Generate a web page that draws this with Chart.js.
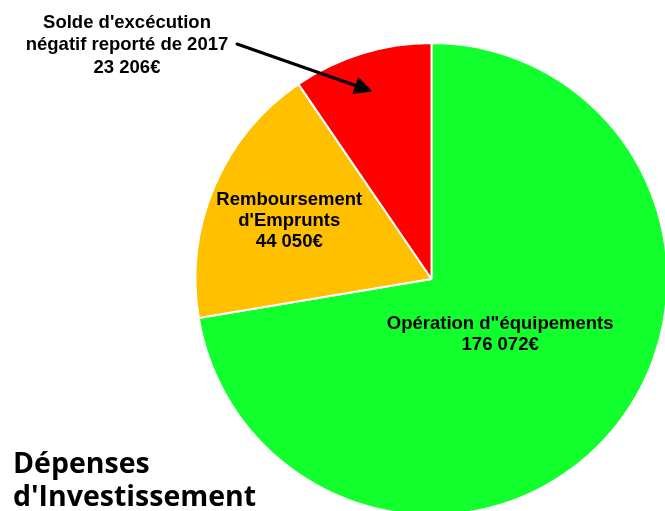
<!DOCTYPE html>
<html>
<head>
<meta charset="utf-8">
<script src="https://cdn.jsdelivr.net/npm/chart.js@4"></script>
<style>
html,body{margin:0;padding:0;background:#fff;overflow:hidden;width:665px;height:511px;}
#wrap{position:absolute;left:0;top:0;width:700px;height:560px;}
</style>
</head>
<body>
<div id="wrap"><canvas id="c" width="700" height="560"></canvas></div>
<script>
const categories = ["Opération d\"équipements", "Remboursement d'Emprunts", "Solde d'excécution négatif reporté de 2017"];
const labelLines = [["Opération d\"équipements"], ["Remboursement", "d'Emprunts"], ["Solde d'excécution", "négatif reporté de 2017"]];
const values = [176072, 44050, 23206];
const colors = ["#12FF2E", "#FFC000", "#FF0000"];
const titleLines = ["Dépenses", "d'Investissement"];

function fmt(v) {
  return String(v).replace(/\B(?=(\d{3})+(?!\d))/g, " ") + "€";
}

const labelPlugin = {
  id: 'labels',
  afterDraw(chart) {
    const ctx = chart.ctx;
    const arcs = chart.getDatasetMeta(0).data;
    ctx.save();
    ctx.fillStyle = '#000';
    ctx.textAlign = 'center';
    ctx.textBaseline = 'middle';
    ctx.font = 'bold 18.5px "Liberation Sans", Arial, sans-serif';
    const lh = 21.5;
    // green slice label
    {
      const a = arcs[0];
      const mid = (a.startAngle + a.endAngle) / 2;
      const r = a.outerRadius * 0.37;
      const cx = a.x + Math.cos(mid) * r + 2;
      const cy = a.y + Math.sin(mid) * r - 1;
      const lines = labelLines[0].concat([fmt(values[0])]);
      lines.forEach((t, i) => ctx.fillText(t, cx, cy + (i - (lines.length - 1) / 2) * lh));
    }
    // orange slice label
    {
      const a = arcs[1];
      const mid = (a.startAngle + a.endAngle) / 2;
      const r = a.outerRadius * 0.655;
      const cx = a.x + Math.cos(mid) * r;
      const cy = a.y + Math.sin(mid) * r + 3;
      const lines = labelLines[1].concat([fmt(values[1])]);
      lines.forEach((t, i) => ctx.fillText(t, cx, cy + (i - (lines.length - 1) / 2) * 21));
    }
    // red slice: outside label with arrow
    {
      const a = arcs[2];
      const mid = (a.startAngle + a.endAngle) / 2;
      const r = a.outerRadius * 0.835;
      const tx = a.x + Math.cos(mid) * r - 3;
      const ty = a.y + Math.sin(mid) * r;
      const lines = labelLines[2].concat([fmt(values[2])]);
      const lx = 127, ly = 45;
      lines.forEach((t, i) => ctx.fillText(t, lx, ly + (i - 1) * 22.5));
      const sx = 237, sy = 44;
      const ang = Math.atan2(ty - sy, tx - sx);
      const hl = 15, hw = 7.5;
      const bx = tx - Math.cos(ang) * hl, by = ty - Math.sin(ang) * hl;
      ctx.strokeStyle = '#000';
      ctx.lineWidth = 3;
      ctx.lineCap = 'round';
      ctx.beginPath();
      ctx.moveTo(sx, sy);
      ctx.lineTo(bx + Math.cos(ang) * 3, by + Math.sin(ang) * 3);
      ctx.stroke();
      ctx.beginPath();
      ctx.moveTo(tx, ty);
      ctx.lineTo(bx - Math.sin(ang) * hw, by + Math.cos(ang) * hw);
      ctx.lineTo(bx + Math.sin(ang) * hw, by - Math.cos(ang) * hw);
      ctx.closePath();
      ctx.lineJoin = 'round';
      ctx.lineWidth = 2;
      ctx.fillStyle = '#000';
      ctx.fill();
      ctx.stroke();
    }
    // title
    ctx.textAlign = 'left';
    ctx.textBaseline = 'alphabetic';
    ctx.font = 'bold 28.5px "Open Sans", Lato, sans-serif';
    ctx.fillText(titleLines[0], 13, 473);
    ctx.fillText(titleLines[1], 13, 506);
    ctx.restore();
  }
};

new Chart(document.getElementById('c'), {
  type: 'pie',
  data: {
    labels: categories,
    datasets: [{
      data: values,
      backgroundColor: colors,
      borderColor: '#ffffff',
      borderWidth: 2
    }]
  },
  options: {
    responsive: false,
    animation: false,
    devicePixelRatio: 1,
    layout: { padding: { left: 194, top: 42, right: 31, bottom: 44 } },
    plugins: {
      legend: { display: false },
      tooltip: { enabled: false },
      title: { display: false }
    }
  },
  plugins: [labelPlugin]
});
</script>
</body>
</html>
